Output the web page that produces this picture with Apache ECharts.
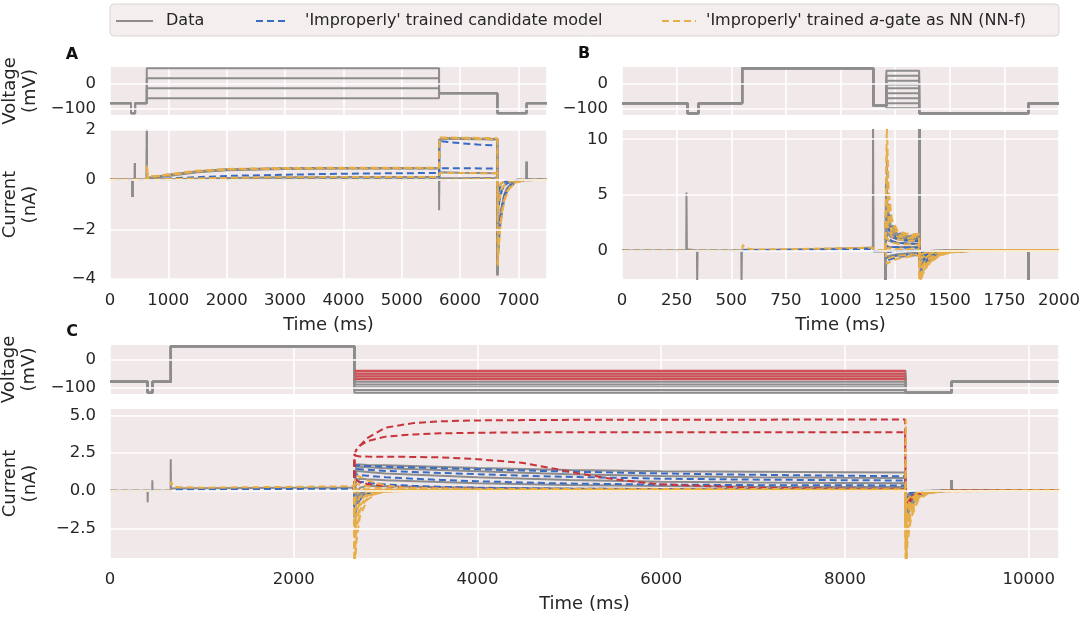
<!DOCTYPE html>
<html><head><meta charset="utf-8">
<script src="https://cdn.jsdelivr.net/npm/echarts@6/dist/echarts.min.js"></script>
<style>html,body{margin:0;padding:0;background:#fff}#c{width:1084px;height:618px}</style>
</head><body><div id="c"></div>
<script>
// ---------- names ----------
const DATA_NAME = 'Data';
const CAND = "'Improperly' trained candidate model";
const NNF = "'Improperly' trained a-gate as NN (NN-f)";

// ---------- tick labels ----------
const voltTicks = [-100, 0];
const aCurrTicks = [-4, -2, 0, 2];
const bCurrTicks = [0, 5, 10];
const cCurrTicks = [-2.5, 0, 2.5, 5];

// ---------- Panel A ----------
const aLevels = [60, 20, -20, -60];
const aVoltPre = [[0,-80],[360,-80],[360,-120],[430,-120],[430,-80],[630,-80]];
const aStepEnd = 5640;
const aVoltPost = [[5640,-40],[6640,-40],[6640,-120],[7140,-120],[7140,-80],[7490,-80]];
const aData = [
 [[0,0],[385,0],[386,-0.7],[388,0],[426,0],[427,0.67],[429,0],[630,0],[631,2.3],[634,0.08],[800,0.12],[1000,0.2],[1500,0.34],[2000,0.42],[3000,0.46],[4000,0.47],[5640,0.47],[5641,-1.23],[5644,1.6],[5700,1.68],[6000,1.67],[6640,1.64],[6641,-3.85],[6650,-3.0],[6670,-2.2],[6700,-1.4],[6750,-0.7],[6800,-0.4],[6900,-0.15],[7000,-0.05],[7140,0],[7141,0.72],[7144,0],[7490,0]],
 [[0,0],[385,0],[386,-0.7],[388,0],[426,0],[427,0.67],[429,0],[630,0],[631,2.3],[634,0.05],[800,0.08],[1000,0.15],[1500,0.3],[2000,0.38],[3000,0.43],[4000,0.45],[5640,0.46],[5641,-0.6],[5644,1.58],[5700,1.65],[6000,1.64],[6640,1.62],[6641,-3.85],[6650,-2.9],[6670,-2.1],[6700,-1.3],[6750,-0.65],[6800,-0.35],[6900,-0.12],[7000,-0.04],[7140,0],[7141,0.72],[7144,0],[7490,0]],
 [[0,0],[385,0],[386,-0.7],[388,0],[426,0],[427,0.67],[429,0],[630,0],[631,1.2],[634,0],[1000,0.02],[2000,0.07],[3000,0.1],[5640,0.12],[5641,-0.1],[5644,0.3],[6000,0.28],[6640,0.26],[6641,-3.85],[6650,-1.2],[6680,-0.6],[6750,-0.25],[6850,-0.08],[7000,0],[7140,0],[7141,0.72],[7144,0],[7490,0]],
 [[0,0],[385,0],[386,-0.7],[388,0],[426,0],[427,0.67],[429,0],[630,0],[631,0.4],[634,0],[5640,0.02],[5641,0.2],[5644,0.06],[6640,0.06],[6641,-3.85],[6650,-0.5],[6700,-0.15],[6800,-0.03],[7000,0],[7140,0],[7141,0.72],[7144,0],[7490,0]]
];
const aCand = [
 [[0,0],[630,0],[650,0.03],[800,0.1],[1000,0.18],[1500,0.32],[2000,0.4],[3000,0.45],[4000,0.46],[5640,0.46],[5645,1.66],[6000,1.65],[6640,1.63],[6645,-3.3],[6660,-2.6],[6690,-1.8],[6730,-1.1],[6780,-0.6],[6850,-0.3],[6950,-0.1],[7100,-0.02],[7490,0]],
 [[0,0],[630,0],[800,0.02],[1000,0.05],[1500,0.1],[2000,0.15],[3000,0.2],[4000,0.24],[5000,0.26],[5640,0.27],[5645,1.55],[6000,1.47],[6300,1.42],[6640,1.37],[6645,-3.0],[6660,-2.3],[6690,-1.5],[6730,-0.9],[6780,-0.5],[6850,-0.25],[6950,-0.08],[7100,-0.01],[7490,0]],
 [[0,0],[630,0],[1000,0.02],[2000,0.05],[3000,0.07],[5640,0.08],[5645,0.46],[6000,0.46],[6640,0.45],[6645,-1.6],[6670,-0.9],[6720,-0.4],[6800,-0.15],[6950,-0.03],[7490,0]],
 [[0,0],[5640,0],[5645,0.08],[6640,0.08],[6645,-0.6],[6700,-0.2],[6800,-0.05],[7000,0],[7490,0]]
];
const aNN = [
 [[0,0],[630,0],[632,0.6],[650,0.15],[800,0.15],[1000,0.22],[1500,0.36],[2000,0.43],[3000,0.47],[4000,0.48],[5640,0.48],[5645,1.7],[6000,1.69],[6640,1.67],[6645,-3.5],[6660,-2.8],[6690,-1.9],[6730,-1.2],[6780,-0.7],[6850,-0.35],[6950,-0.12],[7100,-0.03],[7490,0]],
 [[0,0],[630,0],[632,0.3],[650,0.08],[1000,0.18],[1500,0.32],[2000,0.4],[3000,0.44],[5640,0.46],[5645,1.66],[6000,1.65],[6640,1.63],[6645,-3.4],[6660,-2.7],[6690,-1.8],[6730,-1.1],[6780,-0.6],[6850,-0.3],[6950,-0.1],[7100,-0.02],[7490,0]],
 [[0,0],[630,0],[1000,0.03],[2000,0.07],[3000,0.1],[5640,0.11],[5645,0.27],[6640,0.26],[6645,-1.5],[6670,-0.8],[6720,-0.35],[6800,-0.12],[6950,-0.02],[7490,0]],
 [[0,0],[5640,0],[5645,0.05],[6640,0.05],[6645,-0.5],[6700,-0.15],[6800,-0.04],[7000,0],[7490,0]]
];

// ---------- Panel B ----------
const bLevels = [50, 30, 10, -5, -20, -40, -60, -80, -100];
const bVoltPre = [[0,-80],[300,-80],[300,-120],[350,-120],[350,-80],[550,-80],[550,60],[1150,60],[1150,-90],[1210,-90]];
const bStepEnd = 1360;
const bVoltPost = [[1360,-120],[1860,-120],[1860,-80],[2000,-80]];
const bDataPre = [[0,0],[294,0],[295,5.2],[297,0.1],[343,0],[344,-3],[346,0],[546,0],[547,-3],[549,0.05],[700,0.06],[900,0.12],[1100,0.22],[1148,0.26],[1149,12],[1151,-0.1],[1205,-0.1]];
const bCandPre = [[0,0],[550,0],[560,0.03],[800,0.06],[1000,0.1],[1148,0.14],[1152,-0.05],[1205,-0.06]];
const bNNPre = [[0,0],[550,0],[553,0.5],[565,0.2],[600,0.08],[800,0.12],[1000,0.2],[1148,0.25],[1152,0.05],[1205,0.02]];
const bDataTimes = [1205,1206,1208,1215,1230,1260,1300,1360,1361,1363,1380,1420,1500,1600,1860,1861,1863,2000];
const bDataSweeps = [
 [-0.1,-3,6.0,4.0,2.2,1.5,1.3,1.2,12,-1.6,-1.2,-0.6,-0.15,-0.03,0,-3,0,0],
 [-0.1,-3,4.5,3.2,1.9,1.35,1.2,1.1,12,-1.5,-1.1,-0.55,-0.13,-0.03,0,-3,0,0],
 [-0.1,-3,3.2,2.4,1.6,1.2,1.05,1.0,12,-1.4,-1.0,-0.5,-0.12,-0.02,0,-3,0,0],
 [-0.1,-3,2.0,1.6,1.2,1.0,0.9,0.85,12,-1.2,-0.9,-0.4,-0.1,-0.02,0,-3,0,0],
 [-0.1,-3,1.0,0.9,0.8,0.7,0.65,0.6,12,-0.9,-0.7,-0.3,-0.08,-0.01,0,-3,0,0],
 [-0.1,-3,0.3,0.3,0.3,0.3,0.3,0.3,12,-0.5,-0.4,-0.2,-0.05,0,0,-3,0,0],
 [-0.1,-3,-0.1,-0.1,-0.05,0,0,0,12,-0.3,-0.2,-0.1,-0.02,0,0,-3,0,0],
 [-0.1,-3,-0.6,-0.55,-0.45,-0.35,-0.28,-0.22,12,-0.2,-0.15,-0.06,-0.01,0,0,-3,0,0],
 [-0.1,-3,-0.7,-0.65,-0.55,-0.45,-0.35,-0.28,12,-0.15,-0.1,-0.04,0,0,0,-3,0,0]
];
const bModelTimes = [1205,1210,1212,1220,1235,1260,1300,1360,1362,1375,1400,1450,1500,1600,2000];
const bCandSweeps = [
 [-0.06,-0.06,8.0,4.5,2.3,1.6,1.35,1.25,-2.0,-1.6,-1.0,-0.4,-0.15,-0.03,0],
 [-0.06,-0.06,6.0,3.6,2.0,1.45,1.25,1.15,-1.9,-1.5,-0.95,-0.38,-0.14,-0.03,0],
 [-0.06,-0.06,4.0,2.6,1.6,1.2,1.05,1.0,-1.7,-1.3,-0.85,-0.33,-0.12,-0.02,0],
 [-0.06,-0.06,2.6,1.9,1.3,1.0,0.9,0.85,-1.5,-1.1,-0.7,-0.28,-0.1,-0.02,0],
 [-0.06,-0.06,1.4,1.1,0.85,0.7,0.62,0.58,-1.2,-0.9,-0.55,-0.22,-0.08,-0.01,0],
 [-0.06,-0.06,0.4,0.35,0.3,0.28,0.25,0.25,-0.8,-0.6,-0.35,-0.14,-0.05,0,0],
 [-0.06,-0.06,-0.2,-0.15,-0.1,-0.05,-0.03,0,-0.5,-0.4,-0.2,-0.08,-0.03,0,0],
 [-0.06,-0.06,-0.7,-0.65,-0.55,-0.45,-0.38,-0.3,-0.3,-0.22,-0.12,-0.04,-0.01,0,0],
 [-0.06,-0.06,-0.9,-0.85,-0.75,-0.6,-0.5,-0.4,-0.2,-0.15,-0.08,-0.03,0,0,0]
];
const bNNSweeps = [
 [0.02,0.02,11.5,5.5,2.8,1.8,1.5,1.45,-3.2,-2.2,-1.3,-0.5,-0.2,-0.04,0],
 [0.02,0.02,9.0,4.5,2.4,1.65,1.4,1.35,-2.9,-2.0,-1.2,-0.45,-0.18,-0.04,0],
 [0.02,0.02,6.5,3.4,2.0,1.45,1.25,1.2,-2.6,-1.8,-1.05,-0.4,-0.15,-0.03,0],
 [0.02,0.02,4.5,2.6,1.6,1.25,1.1,1.05,-2.2,-1.5,-0.9,-0.35,-0.13,-0.03,0],
 [0.02,0.02,2.8,1.8,1.25,1.0,0.9,0.85,-1.8,-1.3,-0.75,-0.28,-0.1,-0.02,0],
 [0.02,0.02,1.2,0.9,0.7,0.6,0.55,0.5,-1.3,-0.9,-0.5,-0.2,-0.07,-0.01,0],
 [0.02,0.02,0.2,0.2,0.15,0.12,0.1,0.1,-0.8,-0.6,-0.3,-0.12,-0.04,0,0],
 [0.02,0.02,-0.8,-0.7,-0.6,-0.5,-0.42,-0.35,-0.4,-0.3,-0.15,-0.05,-0.02,0,0],
 [0.02,0.02,-1.2,-1.1,-0.95,-0.75,-0.6,-0.45,-0.25,-0.18,-0.09,-0.03,-0.01,0,0]
];

// ---------- Panel C ----------
const cRedLevels = [-40, -50, -60, -70];
const cGrayLevels = [-80, -90, -100, -110, -120];
const cVoltPre = [[0,-80],[410,-80],[410,-120],[462,-120],[462,-80],[662,-80],[662,50],[2660,50]];
const cStepStart = 2660, cStepEnd = 8660;
const cVoltPost = [[8660,-120],[9160,-120],[9160,-80],[10330,-80]];
const cDataPre = [[0,0],[409,0],[410,-0.77],[412,0],[460,0],[461,0.7],[463,0],[660,0],[661,2.1],[664,0.15],[900,0.16],[1500,0.18],[2000,0.19],[2655,0.2]];
const cCandPre = [[0,0],[660,0],[700,0.05],[1000,0.08],[2000,0.12],[2655,0.14]];
const cNNPre = [[0,0],[400,0],[412,-0.08],[440,0],[660,0],[664,0.6],[700,0.25],[1000,0.2],[2000,0.26],[2655,0.3]];
const cDataTimes = [2655,2662,2680,2720,2800,3000,4000,5000,6000,7000,8000,8655,8662,8680,8720,8800,8900,9050,9158,9160,9163,10330];
const cDataSweeps = [
 [0.2,-0.3,1.75,1.74,1.72,1.7,1.52,1.38,1.3,1.26,1.23,1.22,-2.4,-1.7,-1.0,-0.4,-0.15,-0.03,0,0.7,0,0],
 [0.2,-0.4,1.6,1.59,1.56,1.5,1.3,1.1,0.98,0.9,0.86,0.84,-2.2,-1.5,-0.9,-0.35,-0.13,-0.03,0,0.7,0,0],
 [0.2,-0.5,1.3,1.29,1.25,1.15,0.9,0.72,0.6,0.54,0.51,0.5,-2.0,-1.4,-0.8,-0.3,-0.1,-0.02,0,0.7,0,0],
 [0.2,-0.6,0.75,0.8,0.77,0.7,0.5,0.38,0.31,0.27,0.25,0.25,-1.8,-1.25,-0.7,-0.27,-0.09,-0.02,0,0.7,0,0],
 [0.2,-0.7,-0.2,0.2,0.32,0.3,0.2,0.15,0.12,0.11,0.1,0.1,-1.5,-1.0,-0.6,-0.22,-0.07,-0.01,0,0.7,0,0],
 [0.2,-0.8,-0.45,-0.15,0.02,0.06,0.05,0.05,0.04,0.04,0.04,0.04,-1.2,-0.8,-0.48,-0.18,-0.06,-0.01,0,0.7,0,0],
 [0.2,-0.9,-0.6,-0.3,-0.06,0,0.01,0.01,0.01,0.01,0.01,0.01,-0.9,-0.6,-0.36,-0.13,-0.04,0,0,0.7,0,0],
 [0.2,-1.0,-0.75,-0.42,-0.12,-0.01,0,0,0,0,0,0,-0.6,-0.4,-0.24,-0.09,-0.03,0,0,0.7,0,0],
 [0.2,-1.2,-0.9,-0.5,-0.16,-0.02,0,0,0,0,0,0,-0.3,-0.2,-0.12,-0.04,-0.01,0,0,0.7,0,0]
];
const cCandTimes = [2655,2662,2680,2720,2800,3000,3300,3600,4000,4500,4800,5100,5500,6000,7000,8000,8655,8662,8690,8740,8820,8950,9100,10330];
// first four sweeps are the red (failing) candidate predictions
const cCandSweeps = [
 [0.14,2.4,2.7,3.0,3.5,4.2,4.5,4.62,4.68,4.7,4.71,4.72,4.72,4.73,4.73,4.74,4.74,-1.2,-0.8,-0.45,-0.18,-0.05,-0.01,0],
 [0.14,2.4,2.7,3.0,3.3,3.6,3.75,3.82,3.86,3.88,3.89,3.9,3.9,3.9,3.9,3.9,3.9,-1.1,-0.75,-0.4,-0.16,-0.05,-0.01,0],
 [0.14,2.35,2.3,2.28,2.27,2.26,2.25,2.22,2.1,1.85,1.5,1.15,0.75,0.42,0.2,0.14,0.12,-1.0,-0.7,-0.38,-0.15,-0.04,0,0],
 [0.14,0.8,0.7,0.55,0.45,0.3,0.2,0.16,0.13,0.11,0.1,0.1,0.09,0.09,0.08,0.08,0.08,-0.9,-0.6,-0.33,-0.13,-0.04,0,0],
 [0.14,1.7,1.7,1.68,1.65,1.6,1.55,1.5,1.43,1.35,1.3,1.26,1.21,1.15,1.06,1.0,0.96,-1.3,-0.9,-0.5,-0.2,-0.06,-0.01,0],
 [0.14,1.45,1.45,1.43,1.4,1.32,1.25,1.18,1.1,1.0,0.95,0.91,0.86,0.8,0.74,0.7,0.68,-1.1,-0.75,-0.42,-0.17,-0.05,-0.01,0],
 [0.14,1.1,1.08,1.05,1.0,0.9,0.8,0.72,0.63,0.55,0.5,0.47,0.44,0.41,0.37,0.36,0.35,-0.9,-0.6,-0.34,-0.13,-0.04,0,0],
 [0.14,0.7,0.65,0.6,0.52,0.42,0.32,0.26,0.2,0.16,0.14,0.13,0.12,0.11,0.1,0.1,0.1,-0.6,-0.4,-0.22,-0.09,-0.03,0,0],
 [0.14,-2.2,-1.3,-0.6,-0.2,-0.02,0.01,0.02,0.02,0.02,0.02,0.02,0.02,0.02,0.02,0.02,0.02,-0.3,-0.2,-0.11,-0.04,-0.01,0,0]
];
const cRedCount = 4;
const cNNTimes = [2655,2662,2680,2720,2800,2900,3000,3200,4000,8655,8662,8664,8680,8720,8800,8900,9050,10330];
const cNNSweeps = [
 [0.3,0.6,1.0,0.94,0.7,0.5,0.35,0.2,0.12,0.1,4.74,-6,-3.5,-1.8,-0.6,-0.2,-0.04,0],
 [0.3,0.2,0.45,0.4,0.3,0.2,0.14,0.09,0.07,0.06,-5,-5,-3.0,-1.5,-0.5,-0.15,-0.03,0],
 [0.3,-0.3,0.1,0.12,0.1,0.07,0.06,0.05,0.05,0.05,-4.5,-4.5,-2.6,-1.3,-0.45,-0.13,-0.03,0],
 [0.3,-1.0,-0.3,0,0.05,0.05,0.04,0.04,0.04,0.04,-4,-4,-2.3,-1.1,-0.4,-0.12,-0.02,0],
 [0.3,-2.0,-1.0,-0.4,-0.08,0,0.03,0.03,0.03,0.03,-3.5,-3.5,-2.0,-1.0,-0.35,-0.1,-0.02,0],
 [0.3,-3.0,-1.6,-0.7,-0.2,-0.05,0,0.02,0.02,0.02,-3,-3,-1.7,-0.85,-0.3,-0.09,-0.02,0],
 [0.3,-4.0,-2.2,-1.0,-0.35,-0.1,-0.03,0,0,0,-2.4,-2.4,-1.4,-0.7,-0.25,-0.07,-0.01,0],
 [0.3,-5.0,-2.8,-1.3,-0.45,-0.15,-0.05,0,0,0,-1.8,-1.8,-1.0,-0.5,-0.18,-0.05,-0.01,0],
 [0.3,-6.0,-3.5,-1.7,-0.6,-0.2,-0.07,-0.01,0,0,-1.0,-1.0,-0.6,-0.3,-0.1,-0.03,0,0]
];

// ---------- styling ----------
const GRAY = '#8d8d8d', BLUE = '#3a6bc3', ORANGE = '#e7ae48', RED = '#c9333b', REDV = '#d04f55';
const TXT = '#262626', BG = '#F1E8E9', FONT = 'DejaVu Sans';

const zip = (ts, vs) => ts.map((t, i) => [t, vs[i]]);
const series = [];
function ln(name, data, gi, color, dashed, z, w) {
  series.push({type:'line', name, data, xAxisIndex:gi, yAxisIndex:gi, symbol:'none', silent:true, z,
    lineStyle:{color, width:w||2, type: dashed ? [7,4] : 'solid'}, itemStyle:{color},
    emphasis:{disabled:true}, clip:true, animation:false});
}
function gridLines(gi, ticks) {
  series.push({type:'line', name:'_g'+gi, data:[], xAxisIndex:gi, yAxisIndex:gi, z:1, silent:true, symbol:'none',
    markLine:{silent:true, symbol:['none','none'], label:{show:false}, animation:false,
      lineStyle:{color:'#ffffff', width:1.6, type:'solid'}, emphasis:{disabled:true},
      data: ticks.map(v => ({yAxis:v}))}});
}

// grid lines
gridLines(0, voltTicks); gridLines(1, aCurrTicks); gridLines(2, voltTicks);
gridLines(3, bCurrTicks); gridLines(4, voltTicks); gridLines(5, cCurrTicks);

// Panel A
aLevels.forEach(L => ln('_vA', aVoltPre.concat([[630, L], [aStepEnd, L]], aVoltPost), 0, GRAY, false, 2));
aData.forEach(d => ln(DATA_NAME, d, 1, GRAY, false, 2));
aCand.forEach(d => ln(CAND, d, 1, BLUE, true, 3));
aNN.forEach(d => ln(NNF, d, 1, ORANGE, true, 4));

// Panel B
bLevels.forEach(L => ln('_vB', bVoltPre.concat([[1210, L], [bStepEnd, L]], bVoltPost), 2, GRAY, false, 2));
ln(DATA_NAME, bDataPre, 3, GRAY, false, 2);
ln(CAND, bCandPre, 3, BLUE, true, 3);
ln(NNF, bNNPre, 3, ORANGE, true, 4);
bDataSweeps.forEach(v => ln(DATA_NAME, zip(bDataTimes, v), 3, GRAY, false, 2));
bCandSweeps.forEach(v => ln(CAND, zip(bModelTimes, v), 3, BLUE, true, 3));
bNNSweeps.forEach(v => ln(NNF, zip(bModelTimes, v), 3, ORANGE, true, 4));

// Panel C
cRedLevels.concat(cGrayLevels).forEach(L => ln('_vC', cVoltPre.concat([[cStepStart, L], [cStepEnd, L]], cVoltPost), 4, GRAY, false, 2, 2));
cRedLevels.forEach(L => ln('_vCr', [[cStepStart, L], [cStepEnd, L]], 4, REDV, false, 3, 2.2));
ln(DATA_NAME, cDataPre, 5, GRAY, false, 2);
ln(CAND, cCandPre, 5, BLUE, true, 3);
ln(NNF, cNNPre, 5, ORANGE, true, 4);
cDataSweeps.forEach(v => ln(DATA_NAME, zip(cDataTimes, v), 5, GRAY, false, 2));
cCandSweeps.forEach((v, i) => ln(i < cRedCount ? '_red' : CAND, zip(cCandTimes, v), 5, i < cRedCount ? RED : BLUE, true, i < cRedCount ? 3.5 : 3));
cNNSweeps.forEach(v => ln(NNF, zip(cNNTimes, v), 5, ORANGE, true, 4));

// ---------- axes ----------
const grids = [
  {left:110, top:67, width:437, height:48},
  {left:110, top:130, width:437, height:149},
  {left:622, top:67, width:437, height:48},
  {left:622, top:130, width:437, height:149},
  {left:110, top:345, width:949, height:49},
  {left:110, top:409, width:949, height:149}
].map(g => Object.assign({show:true, backgroundColor:BG, borderWidth:0, containLabel:false, outerBoundsMode:'none'}, g));

function xa(gi, max, interval, showLabel, showMax) {
  return {type:'value', gridIndex:gi, min:0, max, interval,
    axisLine:{show:false}, axisTick:{show:false},
    splitLine:{show:true, lineStyle:{color:'#ffffff', width:1.6}},
    axisLabel:{show:showLabel, fontSize:16.5, color:TXT, fontFamily:FONT, margin:13, showMaxLabel:showMax, showMinLabel:true,
      formatter: v => String(v)},
    name: showLabel ? 'Time (ms)' : '', nameLocation:'middle', nameGap:37,
    nameTextStyle:{fontSize:18, color:TXT, fontFamily:FONT}};
}
const minus = s => String(s).replace('-', '\u2212');
function ya(gi, min, max, ticks, name, fmt) {
  return {type:'value', gridIndex:gi, min, max,
    axisLine:{show:false}, axisTick:{show:false, customValues:ticks}, splitLine:{show:false},
    axisLabel:{show:true, customValues:ticks, fontSize:16.5, color:TXT, fontFamily:FONT, margin:14,
      formatter: v => minus(fmt ? Number(v).toFixed(1) : String(v))},
    name: name || '', nameLocation:'middle', nameRotate:90, nameGap:70,
    nameTextStyle:{fontSize:18, color:TXT, fontFamily:FONT, lineHeight:20}};
}

const legendText = {fontSize:16, color:TXT, fontFamily:FONT};
const legendCommon = {top:13, padding:0, itemHeight:14, selectedMode:false, itemStyle:{opacity:0}};
const option = {
  animation:false,
  backgroundColor:'#ffffff',
  textStyle:{fontFamily:FONT},
  grid: grids,
  xAxis: [xa(0,7490,1000,false,false), xa(1,7490,1000,true,false), xa(2,2000,250,false,true),
          xa(3,2000,250,true,true), xa(4,10330,2000,false,false), xa(5,10330,2000,true,false)],
  yAxis: [ya(0,-127,65,voltTicks,'Voltage\n(mV)'), ya(1,-4,2,aCurrTicks,'Current\n(nA)'),
          ya(2,-127,65,voltTicks,''), ya(3,-2.57,10.83,bCurrTicks,''),
          ya(4,-124.5,55,voltTicks,'Voltage\n(mV)'), ya(5,-4.48,5.44,cCurrTicks,'Current\n(nA)',true)],
  legend: [
    Object.assign({data:[DATA_NAME], left:115, itemWidth:37,
      textStyle:Object.assign({padding:[0,0,0,8]}, legendText)}, legendCommon),
    Object.assign({data:[CAND], left:255, itemWidth:33,
      textStyle:Object.assign({padding:[0,0,0,11]}, legendText)}, legendCommon),
    Object.assign({data:[NNF], left:661, itemWidth:34,
      formatter: () => "'Improperly' trained {i|a}-gate as NN (NN-f)",
      textStyle:Object.assign({padding:[0,0,0,5], rich:{i:{fontStyle:'italic', fontSize:16, color:TXT, fontFamily:FONT}}}, legendText)}, legendCommon)
  ],
  graphic: [
    {type:'rect', silent:true, z:0, shape:{x:110, y:4, width:949, height:32, r:4},
      style:{fill:'#F5EEEE', stroke:'#DCD3D3', lineWidth:1}},
    {type:'text', silent:true, x:72, y:55, style:{text:'A', font:'bold 16px "DejaVu Sans"', fill:'#111', align:'center', verticalAlign:'middle'}},
    {type:'text', silent:true, x:584, y:54, style:{text:'B', font:'bold 16px "DejaVu Sans"', fill:'#111', align:'center', verticalAlign:'middle'}},
    {type:'text', silent:true, x:72, y:332, style:{text:'C', font:'bold 16px "DejaVu Sans"', fill:'#111', align:'center', verticalAlign:'middle'}}
  ],
  series
};
const chart = echarts.init(document.getElementById('c'), null, {renderer:'canvas'});
chart.setOption(option);
</script></body></html>
